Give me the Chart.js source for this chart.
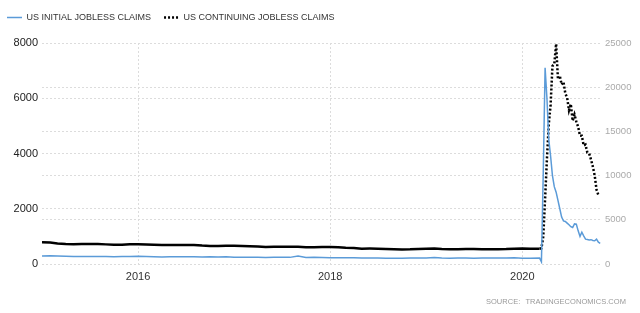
<!DOCTYPE html>
<html>
<head>
<meta charset="utf-8">
<script src="https://cdn.jsdelivr.net/npm/chart.js@4"></script>
<style>
  html, body { margin: 0; padding: 0; background: #fff; }
  #wrap { position: relative; width: 640px; height: 313px; }
  #source {
    position: absolute; right: 14px; top: 297px;
    font: 7.5px 'Liberation Sans', Arial, sans-serif;
    color: #999; letter-spacing: 0.05px; word-spacing: 3px;
  }
</style>
</head>
<body>
<div id="wrap">
  <canvas id="chart" width="640" height="313"></canvas>
  <div id="source">SOURCE: TRADINGECONOMICS.COM</div>
</div>
<script>
// monthly readings Jan 2015 - Feb 2020, thousands
const monthYears = [2015, 2016, 2017, 2018, 2019, 2020];
const initialMonthly = [
  290, 300, 290, 280, 275, 275, 270, 270, 270, 265, 270, 275,
  280, 270, 265, 255, 265, 265, 260, 265, 255, 260, 250, 260,
  245, 240, 245, 245, 235, 245, 245, 240, 290, 235, 240, 235,
  230, 225, 225, 225, 220, 220, 215, 210, 205, 210, 220, 220,
  220, 235, 215, 205, 215, 220, 210, 215, 215, 215, 220, 230,
  210, 210
];
const continuingMonthly = [
  2450, 2420, 2330, 2260, 2240, 2260, 2250, 2250, 2220, 2180, 2180, 2230,
  2240, 2210, 2180, 2140, 2160, 2140, 2140, 2150, 2080, 2040, 2040, 2060,
  2060, 2040, 2020, 1980, 1930, 1950, 1960, 1950, 1940, 1890, 1900, 1920,
  1930, 1900, 1850, 1820, 1730, 1740, 1730, 1700, 1660, 1640, 1660, 1700,
  1720, 1740, 1690, 1680, 1680, 1690, 1700, 1680, 1670, 1680, 1690, 1730,
  1740, 1720
];

// weekly readings from March 2020
const weeks2020 = [
  '2020-03-07', '2020-03-14', '2020-03-21', '2020-03-28', '2020-04-04', '2020-04-11',
  '2020-04-18', '2020-04-25', '2020-05-02', '2020-05-09', '2020-05-16', '2020-05-23',
  '2020-05-30', '2020-06-06', '2020-06-13', '2020-06-20', '2020-06-27', '2020-07-04',
  '2020-07-11', '2020-07-18', '2020-07-25', '2020-08-01', '2020-08-08', '2020-08-15',
  '2020-08-22', '2020-08-29', '2020-09-05', '2020-09-12', '2020-09-19', '2020-09-26',
  '2020-10-03', '2020-10-10', '2020-10-17', '2020-10-24'
];
const initialWeekly = [
  215, 80, 3300, 7100, 6000, 4500, 3900, 3200, 2800, 2600, 2300, 2000,
  1700, 1560, 1540, 1480, 1420, 1350, 1320, 1450, 1440, 1200, 1000, 1150,
  1020, 900, 890, 870, 880, 850, 840, 900, 790, 750
];
const continuingWeekly = [
  1720, 1780, 3100, 7400, 11900, 15800, 18000, 22400, 22600, 24900, 20900, 21300,
  20300, 20600, 19300, 18800, 17400, 18100, 16200, 16900, 16100, 15500, 14500, 14500,
  13400, 13500, 12600, 12500, 11800, 11000, 10000, 8400, 7800
];

const yearTicks = [2016, 2018, 2020];
const leftTicks = [0, 2000, 4000, 6000, 8000];
const rightTicks = [0, 5000, 10000, 15000, 20000, 25000];

function toYear(str) {
  const d = new Date(str + 'T00:00:00Z');
  const y = d.getUTCFullYear();
  const start = Date.UTC(y, 0, 1);
  return y + (d - start) / (Date.UTC(y + 1, 0, 1) - start);
}

const monthDates = [];
monthYears.forEach(y => {
  for (let m = 1; m <= 12; m++) {
    if (monthDates.length < initialMonthly.length) {
      monthDates.push(y + '-' + String(m).padStart(2, '0') + '-01');
    }
  }
});

function series(dates, vals) {
  return vals.map((v, i) => ({ x: toYear(dates[i]), y: v }));
}

const initialData = series(monthDates, initialMonthly).concat(series(weeks2020, initialWeekly));
const continuingData = series(monthDates, continuingMonthly).concat(series(weeks2020, continuingWeekly));
const spikeStart = toYear('2020-03-10');

const gridDots = { display: false, dash: [2, 2] };
const sans = "'Liberation Sans', Arial, sans-serif";

// fixed legend height so the plot starts where the reference does
const legendHeight = {
  id: 'legendHeight',
  beforeInit(chart) {
    const fit = chart.legend.fit;
    chart.legend.fit = function () {
      fit.call(this);
      this.height = 43;
    };
  }
};

new Chart(document.getElementById('chart'), {
  type: 'line',
  data: {
    datasets: [
      {
        label: 'US INITIAL JOBLESS CLAIMS',
        data: initialData,
        yAxisID: 'y',
        borderColor: '#5b9bd8',
        backgroundColor: '#5b9bd8',
        borderWidth: 1.5,
        pointRadius: 0,
        tension: 0
      },
      {
        label: 'US CONTINUING JOBLESS CLAIMS',
        data: continuingData,
        yAxisID: 'y1',
        borderColor: '#000',
        backgroundColor: '#000',
        borderWidth: 2.5,
        borderDash: [2, 2],
        pointRadius: 0,
        tension: 0,
        segment: {
          borderDash: ctx => ctx.p1.parsed.x < spikeStart ? [] : undefined
        }
      }
    ]
  },
  options: {
    responsive: false,
    animation: false,
    layout: { padding: { left: -6, right: 0, top: 0, bottom: 0 } },
    plugins: {
      legend: {
        position: 'top',
        align: 'start',
        labels: {
          usePointStyle: true,
          pointStyle: 'line',
          pointStyleWidth: 15,
          padding: 13,
          color: '#333',
          font: { size: 9, family: sans },
          generateLabels: chart => {
            const items = Chart.defaults.plugins.legend.labels.generateLabels(chart);
            items.forEach(item => {
              const ds = chart.data.datasets[item.datasetIndex];
              item.lineDash = ds.borderDash || [];
              item.lineWidth = ds.borderWidth;
              item.strokeStyle = ds.borderColor;
            });
            return items;
          }
        }
      },
      tooltip: { enabled: false }
    },
    scales: {
      x: {
        type: 'linear',
        min: toYear('2015-01-01'),
        max: toYear('2020-10-27'),
        afterBuildTicks: s => { s.ticks = yearTicks.map(v => ({ value: v })); },
        afterFit: s => { s.height = 49; },
        grid: { color: '#dcdcdc', drawTicks: false },
        border: gridDots,
        ticks: {
          padding: 6,
          maxRotation: 0,
          color: '#333',
          font: { size: 11, family: sans },
          callback: v => String(v)
        }
      },
      y: {
        position: 'left',
        min: 0,
        max: 8000,
        afterBuildTicks: s => { s.ticks = leftTicks.map(v => ({ value: v })); },
        afterFit: s => { s.width = 48; },
        grid: { color: '#dcdcdc', drawTicks: false },
        border: gridDots,
        ticks: {
          padding: 4,
          color: '#222',
          font: { size: 11, family: sans },
          callback: v => String(v)
        }
      },
      y1: {
        position: 'right',
        min: 0,
        max: 25000,
        afterBuildTicks: s => { s.ticks = rightTicks.map(v => ({ value: v })); },
        afterFit: s => { s.width = 39; },
        grid: { color: '#dcdcdc', drawTicks: false },
        border: gridDots,
        ticks: {
          padding: 4,
          color: '#aaa',
          font: { size: 9.5, family: sans },
          callback: v => String(v)
        }
      }
    }
  },
  plugins: [legendHeight]
});
</script>
</body>
</html>
